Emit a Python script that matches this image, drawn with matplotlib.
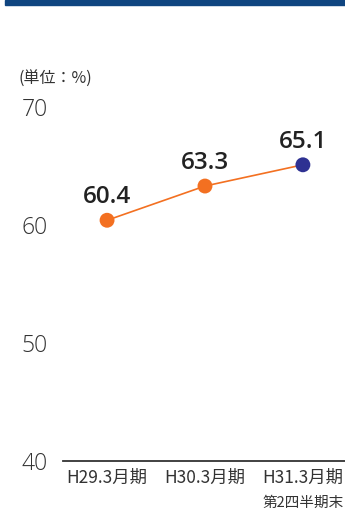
import numpy as np
import matplotlib.pyplot as plt
from matplotlib.patches import Rectangle

plt.rcParams['font.family'] = ['Noto Sans CJK JP', 'DejaVu Sans']

# data
periods = ['H29.3月期', 'H30.3月期', 'H31.3月期']
sub_labels = ['', '', '第2四半期末']
ratio = [60.4, 63.3, 65.1]
yticks = [40, 50, 60, 70]

orange = '#f37021'
navy = '#2e3192'

fig = plt.figure(figsize=(3.45, 5.11), dpi=100)
fig.patches.append(Rectangle((5/345, 1 - 5/511), 1, 5/511, transform=fig.transFigure,
                             color='#0f4580', zorder=0))

ax = fig.add_axes([63/345, 50/511, 282/345, 0.739])
x = np.arange(len(ratio))
ax.plot(x, ratio, '-', color=orange, lw=1.2, zorder=2)
colors = [orange] * (len(ratio) - 1) + [navy]
ax.scatter(x, ratio, s=115, c=colors, zorder=3, linewidths=0)
for xi, v in zip(x, ratio):
    ax.annotate('%.1f' % v, (xi, v), xytext=(0, 8), textcoords='offset points',
                ha='center', va='bottom', fontsize=17.5, fontweight='semibold',
                family=['Open Sans', 'DejaVu Sans'], color='#222222')

ax.set_xlim(-0.45, 2.43)
ax.set_ylim(40, 72)
ax.set_yticks(yticks)
ax.set_yticklabels([str(t) for t in yticks], fontsize=16.5, color='#333333',
                   fontweight='light', family=['Open Sans', 'DejaVu Sans'])
ax.tick_params(axis='y', length=0, pad=11)
ax.set_xticks(x)
ax.set_xticklabels(periods, fontsize=12.5, color='#333333')
ax.tick_params(axis='x', length=0, pad=6)
for xi, s in zip(x, sub_labels):
    if s:
        ax.annotate(s, (xi, 40), xytext=(0, -25), textcoords='offset points',
                    ha='center', va='top', fontsize=10.5, color='#333333')

for sp in ['top', 'right', 'left']:
    ax.spines[sp].set_visible(False)
ax.spines['bottom'].set_color('#333333')
ax.spines['bottom'].set_linewidth(1.3)

fig.text(18/345, 1 - 79/511, '(単位：%)', fontsize=11.5, color='#333333', va='center', ha='left')

fig.savefig('out.png', dpi=100)
